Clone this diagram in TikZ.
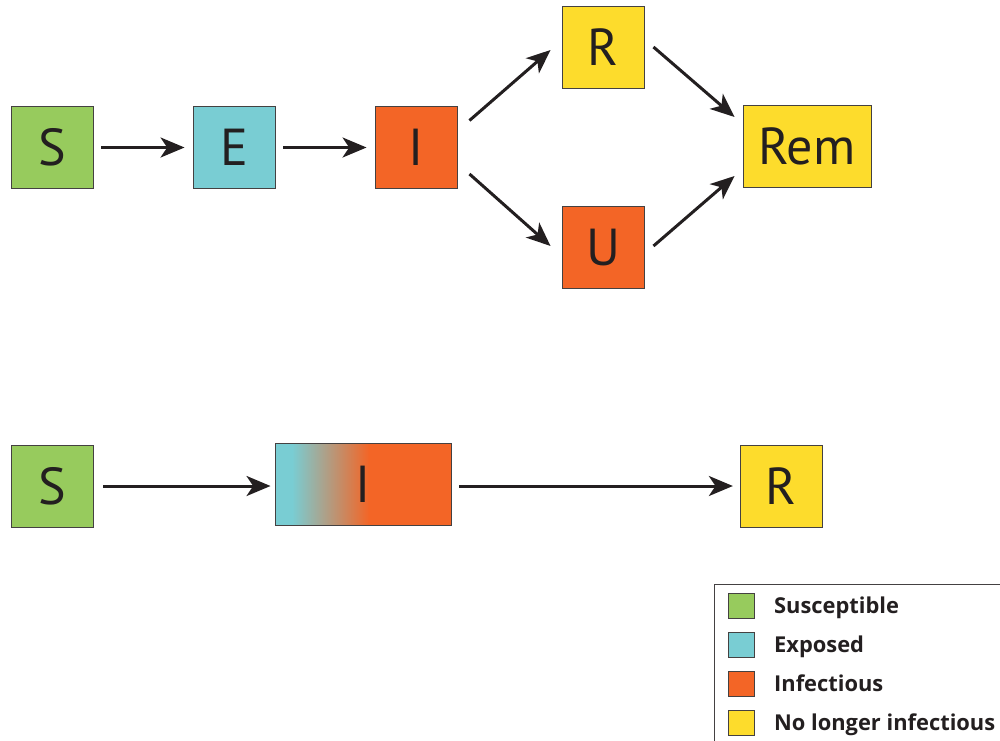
\documentclass[tikz,border=0pt]{standalone}
\usepackage{fontspec}
\setmainfont{PT Sans}
\newfontfamily\legfont{Open Sans}
\usetikzlibrary{arrows.meta,positioning}
\definecolor{susc}{HTML}{97CB5D}
\definecolor{expo}{HTML}{79CDD3}
\definecolor{infc}{HTML}{F36526}
\definecolor{gone}{HTML}{FDDC2C}
\definecolor{ink}{HTML}{231F20}
\begin{document}
\begin{tikzpicture}[x=0.75pt,y=-0.75pt,
  box/.style={draw=ink!85, line width=0.7pt, minimum width=61.5pt,
    minimum height=61.5pt, inner sep=0pt, text=ink,
    font=\fontsize{39}{39}\selectfont},
  arr/.style={-{Stealth[length=18pt,width=15pt,inset=5pt]},
    line width=2.25pt, ink},
  swatch/.style={draw=ink!85, line width=0.6pt, minimum width=20pt,
    minimum height=18.75pt, inner sep=0pt},
  legtxt/.style={inner sep=0pt, text height=11.8pt, text depth=0pt, text=ink,
    font=\legfont\fontsize{16.4}{18}\selectfont\bfseries},
]
  \useasboundingbox (0,0) rectangle (1000,740);
  % SEIR model with two removed routes
  \node[box, fill=susc] (S) at (52,147.5) {S};
  \node[box, fill=expo] (E) at (234,147.5) {E};
  \node[box, fill=infc] (I) at (416,147.5) {I};
  \node[box, fill=gone] (R) at (603,47) {R};
  \node[box, fill=infc] (U) at (603,247.5) {U};
  \node[box, fill=gone, minimum width=96pt] (Rem) at (807,146.5) {Rem};
  \draw[arr] ([xshift=6pt]S.east) -- ([xshift=-6pt]E.west);
  \draw[arr] ([xshift=6pt]E.east) -- ([xshift=-6pt]I.west);
  \draw[arr] ([shift={(12,-27)}]I.east) -- ([shift={(-11,3)}]R.west);
  \draw[arr] ([shift={(12,26.5)}]I.east) -- ([shift={(-11,-1.5)}]U.west);
  \draw[arr] ([shift={(9,0)}]R.east) -- ([shift={(-8,-29.5)}]Rem.west);
  \draw[arr] ([shift={(9,-1.5)}]U.east) -- ([shift={(-8,29.5)}]Rem.west);

  % SIR model, exposed folded into I
  \fill[expo] (275,443) rectangle (292,525);
  \shade[left color=expo, right color=infc] (292,443) rectangle (369,525);
  \fill[infc] (369,443) rectangle (451,525);
  \node[box, minimum width=132pt] (Ib) at (363,484) {I};
  \node[box, fill=susc] (Sb) at (52,486) {S};
  \node[box, fill=gone] (Rb) at (781,486) {R};
  \draw[arr] ([xshift=7.5pt]Sb.east) -- ([xshift=-3pt]Ib.west |- Sb.east);
  \draw[arr] ([xshift=6pt]Ib.east |- Rb.west) -- ([xshift=-5pt]Rb.west);

  % legend
  \draw[ink!85, line width=0.7pt] (714,584) rectangle (1010,750);
  \foreach \c/\t [count=\i] in {susc/Susceptible, expo/Exposed,
      infc/Infectious, gone/No longer infectious} {
    \node[swatch, fill=\c] (sw\i) at (741.5,566.5+39*\i) {};
    \node[legtxt, right=14pt of sw\i] (lt\i) {\t};
  }
\end{tikzpicture}
\end{document}
